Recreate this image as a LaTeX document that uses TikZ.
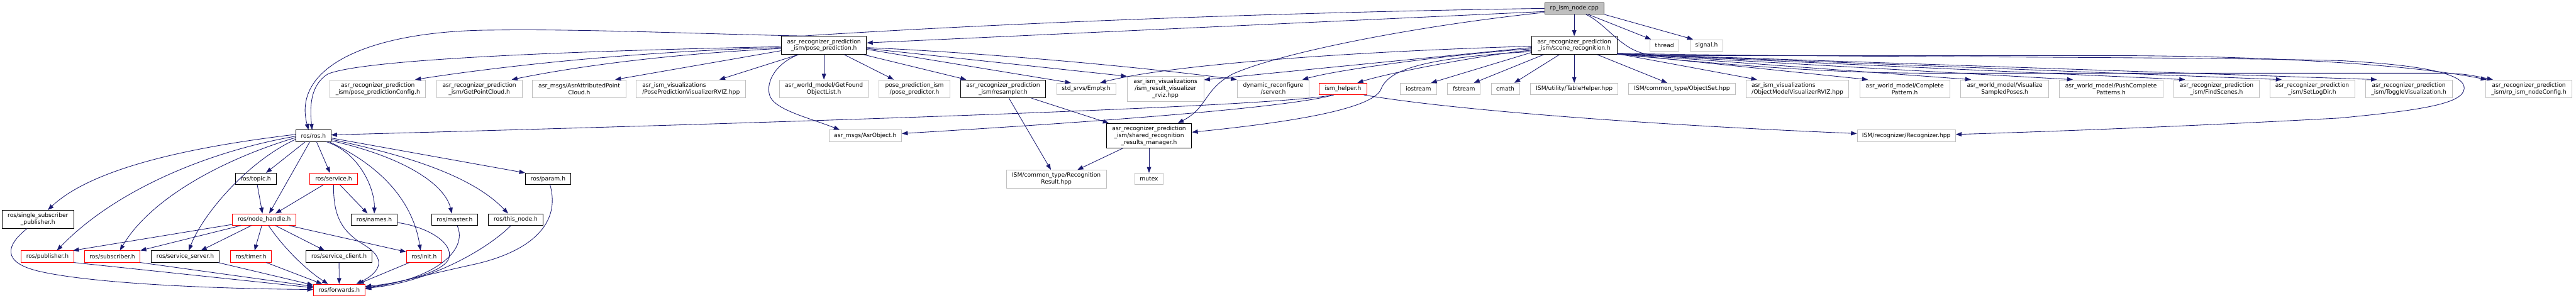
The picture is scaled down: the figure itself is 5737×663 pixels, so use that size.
\documentclass[tikz,border=0pt]{standalone}
\usepackage{fontspec}
\setmainfont{DejaVu Sans}
\usetikzlibrary{arrows.meta}
\definecolor{edgeblue}{HTML}{191970}
\definecolor{extgray}{HTML}{BFBFBF}
\definecolor{rootline}{HTML}{404040}
\tikzset{
  incbox/.style={rectangle, line width=1.3pt, inner xsep=3pt, inner ysep=2pt, minimum height=25.5pt,
    align=center, font=\fontsize{12.8}{15.3}\selectfont},
  rootfile/.style={incbox, draw=rootline, fill=extgray},
  docfile/.style={incbox, draw=black},
  redfile/.style={incbox, draw=red},
  extfile/.style={incbox, draw=extgray},
  lines2/.style={minimum height=40pt},
  lines3/.style={minimum height=55pt},
  dep/.style={draw=edgeblue, line width=1.2pt, -{Triangle[length=13pt,width=9.5pt]}},
}
\begin{document}
\begin{tikzpicture}[x=1pt, y=-1pt]
  \useasboundingbox (0,0) rectangle (5737,663);
  \node[rootfile, minimum width=132] (cpp) at (3506,18.7) {rp\_ism\_node.cpp};
  \node[docfile, lines2, minimum width=190] (pp) at (1835,101) {asr\_recognizer\_prediction\\\_ism/pose\_prediction.h};
  \node[docfile, lines2, minimum width=190] (sr) at (3506,101) {asr\_recognizer\_prediction\\\_ism/scene\_recognition.h};
  \node[extfile, minimum width=64] (thread) at (3707,101) {thread};
  \node[extfile, minimum width=73] (signal) at (3800.5,101) {signal.h};
  \node[extfile, lines2, minimum width=213] (cfg) at (841.5,198) {asr\_recognizer\_prediction\\\_ism/pose\_predictionConfig.h};
  \node[extfile, lines2, minimum width=190] (gpc) at (1067.5,198) {asr\_recognizer\_prediction\\\_ism/GetPointCloud.h};
  \node[extfile, lines2, minimum width=208] (aapc) at (1290,198) {asr\_msgs/AsrAttributedPoint\\Cloud.h};
  \node[extfile, lines2, minimum width=244, align=left] (ppv) at (1539,198) {asr\_ism\_visualizations\\/PosePredictionVisualizerRVIZ.hpp};
  \node[extfile, lines2, minimum width=198] (gfol) at (1835,198) {asr\_world\_model/GetFound\\ObjectList.h};
  \node[extfile, lines2, minimum width=157] (ppred) at (2036.5,198) {pose\_prediction\_ism\\/pose\_predictor.h};
  \node[docfile, lines2, minimum width=190] (resampler) at (2234,198) {asr\_recognizer\_prediction\\\_ism/resampler.h};
  \node[extfile, minimum width=132] (empty) at (2419,198) {std\_srvs/Empty.h};
  \node[extfile, lines3, minimum width=171] (irv) at (2595.5,198) {asr\_ism\_visualizations\\/ism\_result\_visualizer\\\_rviz.hpp};
  \node[extfile, lines2, minimum width=159] (dyn) at (2835.5,198) {dynamic\_reconfigure\\/server.h};
  \node[redfile, minimum width=106] (helper) at (2991,198) {ism\_helper.h};
  \node[extfile, minimum width=80] (iostream) at (3159,198) {iostream};
  \node[extfile, minimum width=73] (fstream) at (3260.5,198) {fstream};
  \node[extfile, minimum width=63] (cmath) at (3352.5,198) {cmath};
  \node[extfile, minimum width=194] (table) at (3506,198) {ISM/utility/TableHelper.hpp};
  \node[extfile, minimum width=238] (objset) at (3746,198) {ISM/common\_type/ObjectSet.hpp};
  \node[extfile, lines2, minimum width=229, align=left] (omv) at (4003,198) {asr\_ism\_visualizations\\/ObjectModelVisualizerRVIZ.hpp};
  \node[extfile, lines2, minimum width=200] (cp) at (4242,198) {asr\_world\_model/Complete\\Pattern.h};
  \node[extfile, lines2, minimum width=196] (vsp) at (4464.7,198) {asr\_world\_model/Visualize\\SampledPoses.h};
  \node[extfile, lines2, minimum width=231] (pcp) at (4701.5,198) {asr\_world\_model/PushComplete\\Patterns.h};
  \node[extfile, lines2, minimum width=190] (fs) at (4936.5,198) {asr\_recognizer\_prediction\\\_ism/FindScenes.h};
  \node[extfile, lines2, minimum width=189] (sld) at (5149.5,198) {asr\_recognizer\_prediction\\\_ism/SetLogDir.h};
  \node[extfile, lines2, minimum width=193] (tv) at (5364.5,198) {asr\_recognizer\_prediction\\\_ism/ToggleVisualization.h};
  \node[extfile, lines2, minimum width=192] (nodecfg) at (5632,198) {asr\_recognizer\_prediction\\\_ism/rp\_ism\_nodeConfig.h};
  \node[docfile, minimum width=78] (ros) at (698,302.5) {ros/ros.h};
  \node[extfile, minimum width=162] (asrobj) at (1927,302.5) {asr\_msgs/AsrObject.h};
  \node[docfile, lines3, minimum width=190] (srm) at (2559,302.5) {asr\_recognizer\_prediction\\\_ism/shared\_recognition\\\_results\_manager.h};
  \node[extfile, minimum width=219] (recog) at (4245.5,302.5) {ISM/recognizer/Recognizer.hpp};
  \node[docfile, minimum width=91] (topic) at (569.5,398.5) {ros/topic.h};
  \node[redfile, minimum width=106] (service) at (743,398.5) {ros/service.h};
  \node[docfile, minimum width=101] (param) at (1220.5,398.5) {ros/param.h};
  \node[extfile, lines2, minimum width=223] (rres) at (2352.5,399) {ISM/common\_type/Recognition\\Result.hpp};
  \node[extfile, minimum width=64] (mutex) at (2559,398.5) {mutex};
  \node[docfile, lines2, minimum width=159] (ssp) at (84.5,488.5) {ros/single\_subscriber\\\_publisher.h};
  \node[redfile, minimum width=141] (nh) at (588.5,489) {ros/node\_handle.h};
  \node[docfile, minimum width=103] (names) at (833.5,489) {ros/names.h};
  \node[docfile, minimum width=103] (master) at (1012.5,489) {ros/master.h};
  \node[docfile, minimum width=121] (thisnode) at (1148.5,489) {ros/this\_node.h};
  \node[redfile, minimum width=117] (pub) at (105.7,571.5) {ros/publisher.h};
  \node[redfile, minimum width=124] (sub) at (250,571.5) {ros/subscriber.h};
  \node[docfile, minimum width=151] (ssrv) at (412.5,571.5) {ros/service\_server.h};
  \node[redfile, minimum width=92] (timer) at (559,571.5) {ros/timer.h};
  \node[docfile, minimum width=148] (sclient) at (755,571.5) {ros/service\_client.h};
  \node[redfile, minimum width=79] (init) at (944.5,571.5) {ros/init.h};
  \node[redfile, minimum width=115] (fwd) at (755.5,646) {ros/forwards.h};
  % rp_ism_node.cpp
  \draw[dep] (cpp) -- (sr);
  \draw[dep] ([xshift=31]cpp.south) -- ([xshift=-30]thread.north);
  \draw[dep] (cpp.south east) -- ([xshift=-30]signal.north);
  \draw[dep] ([yshift=-7]cpp.west) -- ([yshift=5.5]pp.east);
  \draw[dep] (cpp.west) .. controls (2700,30) and (2100,60) .. (1790,80) .. controls (1600,77) and (1300,64) .. (1100,67)
    .. controls (820,68) and (650,150) .. ([xshift=-11]ros.north);
  \draw[dep] ([yshift=-9]cpp.west) .. controls (3150,58) and (2850,118) .. (2745,165) .. controls (2680,200) and (2690,240) .. ([xshift=64]srm.north);
  \draw[dep] ([xshift=26]cpp.south) .. controls (3580,55) and (3610,112) .. (3670,121) .. controls (3720,124) .. (3800,124) -- (4700,124)
    .. controls (5000,124) and (5350,140) .. ([xshift=-94]nodecfg.north);
  % scene_recognition.h
  \draw[dep] (sr) -- (table);
  \draw[dep] ([xshift=51]sr.south) -- ([xshift=-33]objset.north);
  \draw[dep] ([xshift=-33]sr.south) -- ([xshift=20]cmath.north);
  \draw[dep] ([xshift=-68]sr.south) -- ([xshift=22]fstream.north);
  \draw[dep] ([yshift=-16]sr.west) -- ([xshift=28]iostream.north);
  \draw[dep] ([yshift=-11]sr.west) .. controls (3330,118) and (3100,160) .. ([xshift=32]helper.north);
  \draw[dep] ([yshift=-8]sr.west) .. controls (3300,115) and (3000,150) .. ([xshift=65]dyn.north);
  \draw[dep] ([yshift=-5]sr.west) -- ([yshift=-8]irv.north east);
  \draw[dep] ([yshift=-2]sr.west) .. controls (3000,115) and (2600,145) .. ([xshift=31]empty.north);
  \draw[dep] ([yshift=-14]sr.west) .. controls (3150,130) and (3090,160) .. (3075,200) .. controls (3055,240) and (2900,270) .. ([yshift=8]srm.east);
  \foreach \dst/\dx in {omv/-90, cp/-82, vsp/-75, pcp/-85, fs/-70, sld/-68, tv/-71}
    \draw[dep] ([yshift=2]sr.south east) -- ([xshift=\dx]\dst.north);
  \draw[dep] ([yshift=1]sr.south east) .. controls (3900,150) and (4100,163) .. (4300,163) -- (5440,163) .. controls (5490,165) .. ([xshift=-80]nodecfg.north);
  \draw[dep] ([yshift=3]sr.south east) .. controls (4000,128) and (4800,125) .. (5210,135) .. controls (5400,145) and (5490,165) .. (5488,197)
    .. controls (5486,230) and (5400,245) .. (5210,263) .. controls (4900,280) and (4600,292) .. ([yshift=3]recog.east);
  % pose_prediction.h
  \draw[dep] (pp) -- (gfol);
  \draw[dep] ([yshift=-3]pp.west) .. controls (1200,115) and (800,135) .. (730,165) .. controls (690,190) and (690,240) .. ([xshift=-3]ros.north);
  \draw[dep] ([yshift=-5]pp.west) .. controls (1400,115) and (1100,150) .. ([xshift=83]cfg.north);
  \draw[dep] ([yshift=-7]pp.west) .. controls (1500,120) and (1300,145) .. ([xshift=72]gpc.north);
  \draw[dep] ([yshift=-12]pp.west) -- ([xshift=80]aapc.north);
  \draw[dep] ([xshift=-57]pp.south) -- ([xshift=63]ppv.north);
  \draw[dep] ([xshift=-57]pp.south) .. controls (1720,145) and (1705,190) .. (1715,215) .. controls (1728,245) and (1800,262) .. ([xshift=-57]asrobj.north);
  \draw[dep] ([xshift=45]pp.south) -- ([xshift=-46]ppred.north);
  \draw[dep] ([xshift=88]pp.south) -- ([xshift=-82]resampler.north);
  \draw[dep] ([yshift=-5]pp.east) .. controls (2200,118) and (2550,150) .. ([xshift=-1]dyn.north west);
  \draw[dep] ([yshift=-7]pp.east) -- (irv.north west);
  \draw[dep] ([yshift=-9]pp.east) -- ([xshift=-34]empty.north);
  % ism_helper.h, resampler, results manager
  \draw[dep] ([xshift=-24]helper.south) .. controls (2850,240) and (1500,280) .. ([yshift=2]ros.east);
  \draw[dep] ([xshift=-20]helper.south) .. controls (2850,245) and (2300,280) .. ([yshift=5]asrobj.east);
  \draw[dep] ([xshift=46]helper.south) .. controls (3200,240) and (3600,275) .. ([yshift=5]recog.west);
  \draw[dep] ([xshift=13]resampler.south) -- ([xshift=-12]rres.north);
  \draw[dep] ([xshift=63]resampler.south) -- ([xshift=6]srm.north west);
  \draw[dep] ([xshift=-59]srm.south) -- ([xshift=47]rres.north);
  \draw[dep] (srm) -- (mutex);
  % ros/ros.h
  \draw[dep] ([xshift=-18]ros.south) -- ([xshift=23]topic.north);
  \draw[dep] ([xshift=-8]ros.south) -- ([xshift=11]nh.north);
  \draw[dep] ([xshift=7]ros.south) -- ([xshift=-8]service.north);
  \draw[dep] ([xshift=29]ros.south) .. controls (800,340) and (835,420) .. (names.north);
  \draw[dep] ([xshift=35]ros.south) .. controls (850,370) and (920,450) .. ([xshift=-8]init.north);
  \draw[dep] ([yshift=-5]ros.east) -- (param.north west);
  \draw[dep] ([yshift=-8]ros.east) .. controls (900,345) and (1050,390) .. ([xshift=-17]thisnode.north);
  \draw[dep] ([yshift=-11]ros.east) .. controls (900,350) and (990,410) .. ([xshift=-6]master.north);
  \draw[dep] ([yshift=3]ros.west) .. controls (400,330) and (200,380) .. ([xshift=22]ssp.north);
  \draw[dep] ([yshift=-1]ros.west) .. controls (450,340) and (250,430) .. ([xshift=21]pub.north);
  \draw[dep] ([yshift=-4]ros.west) .. controls (480,360) and (330,450) .. ([xshift=17]sub.north);
  \draw[dep] ([yshift=-8]ros.west) .. controls (550,360) and (450,480) .. ([xshift=8]ssrv.north);
  % ros/node_handle.h
  \draw[dep] ([yshift=-11]nh.west) -- ([xshift=-2]pub.north east);
  \draw[dep] ([xshift=-51.5]nh.south) -- (sub.north east);
  \draw[dep] ([xshift=-28.5]nh.south) -- ([xshift=35]ssrv.north);
  \draw[dep] ([xshift=-5.5]nh.south) -- ([xshift=8]timer.north);
  \draw[dep] ([xshift=24.5]nh.south) -- ([xshift=-32]sclient.north);
  \draw[dep] ([xshift=54.5]nh.south) -- ([yshift=-3]init.north west);
  \draw[dep] ([xshift=9.5]nh.south) .. controls (630,550) and (680,600) .. ([xshift=-25]fwd.north);
  \draw[dep] ([xshift=3.5]topic.south) -- ([xshift=-4]nh.north);
  \draw[dep] ([xshift=-23]service.south) -- ([xshift=25]nh.north);
  \draw[dep] ([xshift=14]service.south) -- ([xshift=-15]names.north);
  \draw[dep] (service.south) .. controls (742,480) and (760,515) .. (810,545) .. controls (860,575) and (850,605) .. ([xshift=38]fwd.north);
  % into ros/forwards.h
  \draw[dep] ([yshift=-7]names.east) .. controls (950,505) and (1010,540) .. (1000,575) .. controls (990,605) and (900,630) .. ([yshift=8]fwd.east);
  \draw[dep] ([xshift=5.5]master.south) .. controls (1045,560) and (960,625) .. ([yshift=6]fwd.east);
  \draw[dep] ([xshift=-10.5]thisnode.south) .. controls (1080,560) and (950,630) .. ([yshift=4]fwd.east);
  \draw[dep] ([xshift=4.5]param.south) .. controls (1250,500) and (1180,560) .. (1060,588) .. controls (960,610) and (880,630) .. ([yshift=2]fwd.east);
  \draw[dep] ([xshift=-32.5]init.south) -- ([xshift=42]fwd.north);
  \draw[dep] (sclient) -- (fwd);
  \draw[dep] ([xshift=34]timer.south) -- ([xshift=-38]fwd.north);
  \draw[dep] ([xshift=-3]ssrv.south east) -- ([yshift=11]fwd.west);
  \draw[dep] (sub.south east) -- ([yshift=8]fwd.west);
  \draw[dep] (pub.south east) -- ([yshift=5]fwd.west);
  \draw[dep] ([xshift=-24]ssp.south) .. controls (15,545) and (0,585) .. (90,605) .. controls (200,630) and (450,643) .. ([yshift=1]fwd.west);
\end{tikzpicture}
\end{document}
